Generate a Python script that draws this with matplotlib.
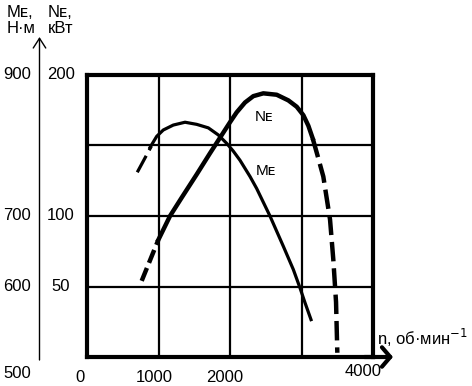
import matplotlib
matplotlib.use('Agg')
import matplotlib.pyplot as plt
import matplotlib.transforms as mtransforms

plt.rcParams['font.family'] = ['Liberation Sans', 'DejaVu Sans']
plt.rcParams['lines.scale_dashes'] = False

W, H = 472, 386

# torque Me (N*m) vs engine speed n (rpm)
n_me_dash = [703, 900]
me_dash = [762, 799]
n_me = [880, 975, 1067, 1207, 1371, 1534, 1697, 1836, 1954, 2046, 2140,
        2280, 2373, 2559, 2746, 2886, 2979, 3049, 3133]
me = [797, 813, 822, 829, 833, 830, 825, 815, 803, 792, 779,
      756, 739, 700, 657, 624, 598, 577, 553]

# power Ne (kW) vs engine speed n (rpm)
n_ne_start = [765, 997]
ne_start = [54, 83]
n_ne = [997, 1161, 1324, 1534, 1720, 1860, 2000, 2093, 2210, 2326, 2466,
        2653, 2816, 2933, 3026, 3096, 3157]
ne = [83, 100, 113, 129.5, 144.5, 155.5, 166.5, 173.5, 180.5, 185, 187,
      186, 182, 177.5, 171.5, 164, 155]
n_ne_end = [3157, 3221, 3305, 3399, 3445, 3483, 3501]
ne_end = [155, 143.5, 128, 97.5, 69, 39, 3]

x_labels = [0, 1000, 2000, 4000]
me_labels = [900, 700, 600, 500]
ne_labels = [200, 100, 50]
grid_n = [1000, 2000, 3000]
grid_ne = [50, 100, 150]


def fx(x):
    return x / W


def fy(y):
    return 1 - y / H


fig = plt.figure(figsize=(W / 100, H / 100), dpi=100)
ax = fig.add_axes([fx(87), fy(357), (373 - 87) / W, (357 - 75) / H])
ax.set_xlim(0, 4000)
ax.set_ylim(0, 200)
ax.set_xticks(grid_n)
ax.set_yticks(grid_ne)
ax.tick_params(length=0, labelbottom=False, labelleft=False)
ax.grid(True, color='black', lw=1.6)
for s in ax.spines.values():
    s.set_linewidth(3)

ax2 = ax.twinx()
ax2.set_ylim(500, 900)
ax2.axis('off')

# curves
ax2.plot(n_me_dash, me_dash, color='k', lw=2.3, dashes=(13.5, 4.5), dash_capstyle='butt')
ax2.plot(n_me, me, color='k', lw=2.3, solid_joinstyle='round')
ax.plot(n_ne_start, ne_start, color='k', lw=3.2, dashes=(10, 4), dash_capstyle='butt')
ax.plot(n_ne, ne, color='k', lw=3.2, solid_joinstyle='round')
ax.plot(n_ne_end, ne_end, color='k', lw=3.2, dashes=(14, 5), dash_capstyle='butt')

ax.text(2476, 170, 'N\u1d07', fontsize=11, ha='center', va='center')
ax2.text(2503, 764, 'M\u1d07', fontsize=11, ha='center', va='center')

# axis arrows
ax.annotate('', xy=(1.07, 0), xytext=(0.97, 0), xycoords='axes fraction',
            arrowprops=dict(arrowstyle='->,head_length=0.6,head_width=0.7',
                            lw=3, color='k', shrinkA=0, shrinkB=0))
ax.annotate('', xy=(fx(39.5), fy(37)), xytext=(fx(39.5), fy(360)),
            xycoords='figure fraction',
            arrowprops=dict(arrowstyle='->,head_length=0.7,head_width=0.45',
                            lw=1.0, color='k', shrinkA=0, shrinkB=0))

# tick labels
tr_me = mtransforms.blended_transform_factory(fig.transFigure, ax2.transData)
tr_ne = mtransforms.blended_transform_factory(fig.transFigure, ax.transData)
tr_n = mtransforms.blended_transform_factory(ax.transData, fig.transFigure)

for v in me_labels:
    dy = -12 if v == 500 else 0
    ax.annotate(str(v), xy=(fx(17), v), xycoords=tr_me, xytext=(0, dy),
                textcoords='offset points', ha='center', va='center', fontsize=12)
for v in ne_labels:
    ax.annotate(str(v), xy=(fx(61), v), xycoords=tr_ne, ha='center', va='center',
                fontsize=12)
x_shift = {0: -5, 1000: -3, 2000: -4, 4000: -7}
for v in x_labels:
    dy = fy(372) if v == 4000 else fy(377)
    ax.annotate(str(v), xy=(v, dy), xycoords=tr_n, xytext=(x_shift[v], 0),
                textcoords='offset points', ha='center', va='center', fontsize=12)

# axis titles
fig.text(fx(7), fy(5), 'M\u1d07,\n\u041d\u00b7\u043c', fontsize=12, ha='left', va='top',
         linespacing=1.1)
fig.text(fx(48), fy(5), 'N\u1d07,\n\u043a\u0412\u0442', fontsize=12, ha='left', va='top',
         linespacing=1.1)
fig.text(fx(377), fy(345), 'n, \u043e\u0431\u00b7\u043c\u0438\u043d$^{-1}$',
         fontsize=12, ha='left', va='baseline')

fig.savefig('out.png', dpi=100)
